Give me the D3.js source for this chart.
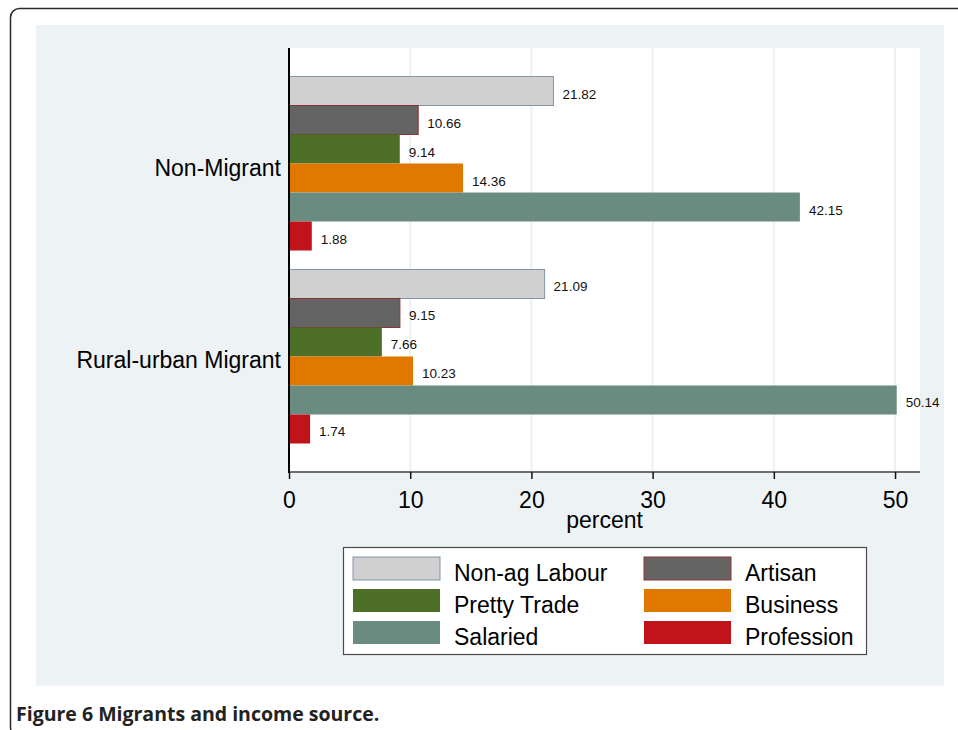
<!DOCTYPE html>
<html>
<head>
<meta charset="utf-8">
<script src="https://cdn.jsdelivr.net/npm/d3@7"></script>
<style>
  html, body { margin: 0; padding: 0; background: #ffffff; }
  svg { display: block; }
</style>
</head>
<body>
<svg id="chart" width="958" height="730"></svg>
<script>
// ---------- data ----------
const categories = ["Non-Migrant", "Rural-urban Migrant"];
const seriesNames = ["Non-ag Labour", "Artisan", "Pretty Trade", "Business", "Salaried", "Profession"];
const nonMigrantValues = [21.82, 10.66, 9.14, 14.36, 42.15, 1.88];
const ruralUrbanValues = [21.09, 9.15, 7.66, 10.23, 50.14, 1.74];
const xTickValues = [0, 10, 20, 30, 40, 50];
const seriesFill = ["#d0d0d0", "#646464", "#4d6f28", "#e07800", "#6a8c80", "#c0141a"];
const seriesStroke = ["#8494ab", "#8e3434", "#4d6f28", "#e07800", "#6a8c80", "#c0141a"];

const valuesByCategory = [nonMigrantValues, ruralUrbanValues];

// ---------- layout ----------
const svg = d3.select("#chart");
const FONT = "'Liberation Sans', Arial, Helvetica, sans-serif";
const plot = { left: 289, right: 920, top: 48, bottom: 472 };

// outer rounded frame
svg.append("rect")
  .attr("x", 10.5).attr("y", 8.5)
  .attr("width", 1000).attr("height", 728)
  .attr("rx", 9).attr("ry", 9)
  .attr("fill", "#ffffff")
  .attr("stroke", "#2a2a2a").attr("stroke-width", 1.5);

// grey graph region
svg.append("rect")
  .attr("x", 36).attr("y", 25)
  .attr("width", 944 - 36).attr("height", 686 - 25)
  .attr("fill", "#edf2f5");

// white plot region
svg.append("rect")
  .attr("x", plot.left).attr("y", plot.top)
  .attr("width", plot.right - plot.left).attr("height", plot.bottom - plot.top)
  .attr("fill", "#ffffff");

// ---------- scales ----------
const x = d3.scaleLinear().domain([0, 52.06]).range([plot.left, plot.right]);
const y0 = d3.scaleBand().domain(categories).range([plot.top, plot.bottom])
  .paddingInner(0.0984).paddingOuter(0.1477);
const y1 = d3.scaleBand().domain(seriesNames).range([0, y0.bandwidth()]).padding(0);

// gridlines
svg.append("g").selectAll("line")
  .data(xTickValues.filter(d => d > 0))
  .join("line")
  .attr("x1", d => x(d)).attr("x2", d => x(d))
  .attr("y1", plot.top).attr("y2", plot.bottom)
  .attr("stroke", "#eaf0f3").attr("stroke-width", 2);

// bars
const groups = svg.append("g").selectAll("g")
  .data(categories)
  .join("g")
  .attr("transform", d => `translate(0,${y0(d)})`);

groups.each(function (cat, ci) {
  const g = d3.select(this);
  const vals = valuesByCategory[ci];
  g.selectAll("rect")
    .data(seriesNames)
    .join("rect")
    .attr("x", x(0))
    .attr("y", s => y1(s))
    .attr("width", (s, i) => x(vals[i]) - x(0))
    .attr("height", y1.bandwidth())
    .attr("fill", (s, i) => seriesFill[i])
    .attr("stroke", (s, i) => seriesStroke[i])
    .attr("stroke-width", (s, i) => i < 2 ? 1 : 0);
  g.selectAll("text")
    .data(seriesNames)
    .join("text")
    .attr("x", (s, i) => x(vals[i]) + 9)
    .attr("y", s => y1(s) + y1.bandwidth() / 2 + 7.5)
    .attr("font-family", FONT)
    .attr("font-size", 13.5)
    .attr("fill", "#111")
    .text((s, i) => d3.format(".2f")(vals[i]));
});

// category labels
svg.append("g").selectAll("text")
  .data(categories)
  .join("text")
  .attr("x", 281)
  .attr("y", d => y0(d) + y0.bandwidth() / 2 + 12)
  .attr("text-anchor", "end")
  .attr("font-family", FONT)
  .attr("font-size", 23)
  .attr("fill", "#000")
  .text(d => d);

// x axis
const xAxis = d3.axisBottom(x).tickValues(xTickValues).tickSize(7).tickPadding(0).tickFormat(d3.format("d"));
const gx = svg.append("g").attr("transform", `translate(0,${plot.bottom})`).call(xAxis);
gx.select(".domain").attr("stroke", "#6e6e6e").attr("stroke-width", 2)
  .attr("d", `M${plot.left},0H${plot.right}`);
gx.selectAll(".tick line").attr("stroke", "#111").attr("stroke-width", 1.5);
gx.selectAll(".tick text")
  .attr("font-family", FONT).attr("font-size", 23).attr("fill", "#000")
  .attr("dy", null).attr("y", 36);

// y axis line
svg.append("line")
  .attr("x1", plot.left).attr("x2", plot.left)
  .attr("y1", plot.top).attr("y2", plot.bottom + 1)
  .attr("stroke", "#000").attr("stroke-width", 2);

// axis title
svg.append("text")
  .attr("x", (plot.left + plot.right) / 2)
  .attr("y", 528)
  .attr("text-anchor", "middle")
  .attr("font-family", FONT).attr("font-size", 23).attr("fill", "#000")
  .text("percent");

// ---------- legend ----------
const legend = svg.append("g");
legend.append("rect")
  .attr("x", 343.5).attr("y", 547.5)
  .attr("width", 866 - 343).attr("height", 654 - 547)
  .attr("fill", "#ffffff").attr("stroke", "#4a4a4a").attr("stroke-width", 1.2);

const colX = [353, 644];
const textX = [454, 745];
const rowY = [557, 589, 621];
const items = legend.selectAll("g.item")
  .data(seriesNames)
  .join("g").attr("class", "item");
items.append("rect")
  .attr("x", (d, i) => colX[i % 2])
  .attr("y", (d, i) => rowY[Math.floor(i / 2)])
  .attr("width", 87).attr("height", 23)
  .attr("fill", (d, i) => seriesFill[i])
  .attr("stroke", (d, i) => seriesStroke[i])
  .attr("stroke-width", (d, i) => i < 2 ? 1 : 0);
items.append("text")
  .attr("x", (d, i) => textX[i % 2])
  .attr("y", (d, i) => rowY[Math.floor(i / 2)] + 24)
  .attr("font-family", FONT).attr("font-size", 23).attr("fill", "#000")
  .text(d => d);

// caption
svg.append("text")
  .attr("x", 16).attr("y", 721)
  .attr("font-family", "'Open Sans', 'Noto Sans', sans-serif")
  .attr("font-weight", "bold")
  .attr("font-size", 19.5)
  .attr("fill", "#222")
  .text("Figure 6 Migrants and income source.");
</script>
</body>
</html>
